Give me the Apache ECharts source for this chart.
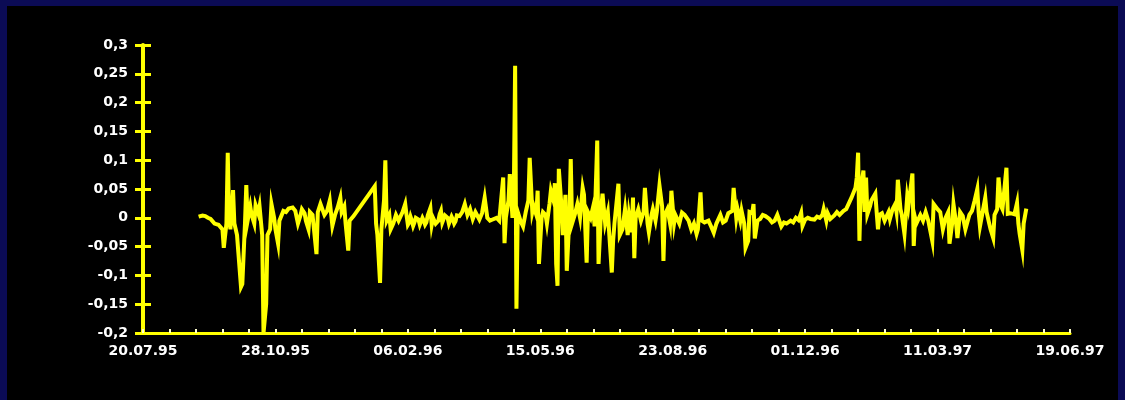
<!DOCTYPE html>
<html>
<head>
<meta charset="utf-8">
<script src="https://cdn.jsdelivr.net/npm/echarts@6/dist/echarts.min.js"></script>
<style>
  html, body { margin: 0; padding: 0; width: 1125px; height: 400px; overflow: hidden; background: #0b0b55; }
  #frame { position: absolute; left: 7px; top: 6px; width: 1111px; height: 394px; background: #000; }
  #chart { position: absolute; left: 0; top: 0; width: 1125px; height: 400px; }
</style>
</head>
<body>
<div id="frame"></div>
<div id="chart"></div>
<script>
// x tick labels (one every 100 days, starting 20.07.95)
const xTickLabels = ['20.07.95', '28.10.95', '06.02.96', '15.05.96', '23.08.96', '01.12.96', '11.03.97', '19.06.97'];

// days since 20.07.95
const days = [
  42, 45, 47, 49, 51, 52, 54, 57, 58, 60, 61, 63, 64, 65, 66, 68, 69, 71, 72, 74,
  75, 77, 78, 79, 81, 82, 84, 85, 87, 88, 90, 91, 93, 94, 96, 97, 99, 100, 102, 103,
  106, 108, 110, 113, 115, 117, 119, 120, 122, 123, 125, 126, 128, 131, 132, 134, 137,
  139, 141, 143, 145, 147, 149, 150, 152, 153, 155, 156, 159,
  175, 176, 177, 179, 180, 182, 183, 184, 186, 187, 189, 191, 193,
  196, 198, 199, 200, 201, 202, 203, 204, 205, 206, 208, 209, 210, 211, 212, 213, 214,
  215, 217, 218, 219, 220, 221, 223, 224, 225, 226, 227, 228, 230, 231, 232, 233, 234,
  235, 236, 237, 239,
  241, 243, 245, 247, 249, 251, 254, 256, 258, 260, 262, 264, 267, 269, 270, 272, 273,
  274, 276, 277, 279, 280, 281, 282, 283, 285, 287, 289, 291, 292, 294, 295, 297, 298,
  299, 301, 302, 304, 305, 307, 308, 310, 311, 312, 313, 314, 316, 317, 319, 320, 322,
  323, 324, 326, 328, 330, 332, 333, 335, 336, 338, 340, 341, 343, 344,
  346, 347, 349, 351, 353, 354, 355, 356, 359, 360, 362, 364, 366, 367, 369, 370, 371,
  372, 374, 376, 378, 379, 381, 382, 384, 385, 387, 388, 390, 392, 393, 394, 396, 398,
  399, 401, 402, 405, 407, 409, 412, 414, 416, 418, 419, 421, 422, 424, 427, 429, 431,
  433, 436, 438, 440, 442, 445, 446,
  448, 449, 451, 452, 454, 455, 457, 458, 460, 461, 462, 464, 466, 468, 470, 473, 475,
  477, 479, 482, 484, 486, 489, 491, 493, 495, 497, 498, 500, 502, 504, 507, 509, 511,
  513, 514, 516, 517, 519, 522, 524, 526, 529, 531, 533, 535, 538, 539, 540, 541, 542,
  544, 545,
  546, 547, 549, 550, 553, 554, 555, 556, 558, 560, 563, 564, 566, 568, 569, 570, 572,
  573, 575, 577, 578, 581, 582, 583, 584, 587, 589, 591, 593, 596, 597, 600, 602, 604,
  606, 608, 609, 611, 612, 614, 615, 617, 619, 621, 624, 626, 628, 630, 631, 632, 634,
  636, 637, 639, 640, 642, 643, 645, 646, 648, 649, 652, 653, 655, 658, 660, 661, 662,
  664, 665, 667
];

// daily returns
const returns = [
  0.002, 0.004, 0.003, 0.000, -0.002, -0.005, -0.010, -0.012, -0.015, -0.020, -0.052, -0.010, 0.113, 0.000, -0.020, 0.048, -0.010, -0.030, -0.060, -0.120,
  -0.115, -0.010, 0.057, -0.005, 0.020, 0.005, -0.010, 0.022, 0.008, 0.020, -0.030, -0.200, -0.150, -0.030, -0.020, 0.024, 0.000, -0.020, -0.045, -0.005,
  0.012, 0.010, 0.016, 0.018, 0.012, -0.010, 0.005, 0.015, 0.008, -0.005, -0.020, 0.010, 0.005, -0.063, 0.010, 0.024, 0.005,
  0.012, 0.030, -0.014, 0.005, 0.018, 0.035, 0.010, 0.020, -0.010, -0.057, -0.005, 0.003,
  0.055, -0.010, -0.030, -0.113, -0.020, 0.030, 0.100, -0.005, 0.005, -0.020, -0.010, 0.005, -0.005,
  0.010, 0.024, 0.005, -0.012, -0.008, 0.002, -0.005, -0.014, -0.008, 0.000, -0.003, -0.012, -0.010, 0.000, -0.005, -0.012, -0.008,
  0.004, 0.017, -0.012, 0.000, -0.003, -0.010, -0.005, 0.006, 0.012, -0.008, -0.005, 0.004, 0.000, -0.010, -0.008, 0.002, -0.003,
  -0.010, -0.006, 0.004, 0.003,
  0.010, 0.024, 0.005, 0.015, -0.002, 0.010, -0.003, 0.008, 0.035, 0.000, -0.005, -0.003, 0.000, -0.005, 0.020, 0.070, -0.044,
  0.000, 0.030, 0.076, 0.000, 0.040, 0.264, -0.158, 0.010, -0.005, -0.015, 0.010, 0.030, 0.104, 0.010, 0.020, 0.005, 0.047,
  -0.080, 0.000, 0.010, 0.005, -0.010, 0.025, 0.047, 0.030, 0.060, -0.080, -0.118, 0.085, 0.020, -0.030, 0.040, -0.092, 0.000,
  0.102, -0.010, 0.005, 0.024, 0.000, 0.052, 0.040, -0.078, 0.010, 0.000, 0.020, -0.015, 0.134, -0.080,
  0.015, 0.042, -0.010, 0.010, -0.060, -0.095, -0.040, -0.010, 0.059, -0.030, -0.020, 0.015, -0.030, 0.005, -0.025, 0.035, -0.070,
  0.000, 0.015, -0.005, 0.010, 0.052, -0.010, -0.025, 0.005, 0.015, -0.005, 0.010, 0.056, 0.020, -0.075, 0.005, 0.015, -0.010,
  0.047, -0.010, 0.005, -0.010, 0.009, 0.005, -0.005, -0.020, -0.010, -0.028, -0.020, 0.044, -0.005, -0.008, -0.005, -0.015, -0.026,
  -0.010, 0.005, -0.008, -0.005, 0.008, 0.012, 0.052,
  0.000, 0.015, -0.005, 0.012, -0.010, -0.052, -0.040, 0.010, 0.008, 0.024, -0.036, -0.005, -0.002, 0.005, 0.003, -0.002, -0.008,
  -0.005, 0.005, -0.015, -0.008, -0.010, -0.005, -0.008, 0.000, -0.004, 0.009, -0.014, -0.003, 0.000, -0.002, -0.003, 0.002, 0.000,
  0.005, 0.015, -0.005, 0.008, -0.002, 0.004, 0.010, 0.005, 0.012, 0.015, 0.025, 0.035, 0.052, 0.070, 0.113, -0.040, 0.050,
  0.082, 0.010,
  0.070, 0.006, 0.020, 0.030, 0.042, 0.010, -0.020, 0.005, 0.008, -0.005, 0.010, -0.002, 0.015, 0.024, 0.010, 0.066, 0.015,
  0.005, -0.028, 0.035, 0.020, 0.077, -0.049, 0.000, -0.010, 0.005, -0.005, 0.010, -0.005, -0.040, 0.024, 0.015, 0.010, -0.020,
  0.000, 0.010, -0.045, -0.010, 0.024, -0.010, -0.035, 0.010, 0.003, -0.020, 0.005, 0.012, 0.030, 0.050, 0.010, -0.015, 0.010,
  0.035, 0.010, -0.010, -0.020, -0.035, 0.005, 0.015, 0.070, 0.020, 0.015, 0.087, 0.007, 0.008, 0.006, 0.026, -0.010, -0.028,
  -0.056, -0.010, 0.016
];

const seriesData = days.map((d, i) => [d, returns[i]]);

const labelFont = { color: '#ffffff', fontFamily: 'DejaVu Sans', fontWeight: 'bold', fontSize: 14 };

const chart = echarts.init(document.getElementById('chart'), null, { renderer: 'canvas' });
chart.setOption({
  backgroundColor: 'transparent',
  animation: false,
  grid: { left: 143, top: 45, right: 55, bottom: 67, containLabel: false },
  xAxis: {
    type: 'value',
    min: 0,
    max: 700,
    interval: 100,
    axisLine: { show: true, onZero: false, lineStyle: { color: '#ffff00', width: 3 } },
    axisTick: { show: true, inside: true, length: 4, lineStyle: { color: '#ffffcc', width: 2 } },
    minorTick: { show: true, splitNumber: 5, length: 4, lineStyle: { color: '#ffffcc', width: 2 } },
    splitLine: { show: false },
    axisLabel: Object.assign({
      margin: 11,
      formatter: v => xTickLabels[Math.round(v / 100)] || ''
    }, labelFont)
  },
  yAxis: [
    {
      type: 'value',
      min: -0.2,
      max: 0.3,
      interval: 0.05,
      axisLine: { show: true, onZero: false, lineStyle: { color: '#ffff00', width: 4 } },
      axisTick: { show: true, inside: false, length: 8, lineStyle: { color: '#ffff00', width: 3 } },
      splitLine: { show: false },
      axisLabel: Object.assign({
        margin: 15,
        formatter: v => {
          const r = Math.round(v * 100) / 100;
          return String(r).replace('.', ',');
        }
      }, labelFont)
    },
    {
      type: 'value',
      min: -0.2,
      max: 0.3,
      interval: 0.05,
      position: 'left',
      axisLine: { show: false },
      axisTick: { show: true, inside: true, length: 8, lineStyle: { color: '#ffff00', width: 3 } },
      splitLine: { show: false },
      axisLabel: { show: false }
    }
  ],
  series: [{
    type: 'line',
    data: seriesData,
    yAxisIndex: 0,
    showSymbol: false,
    lineStyle: { color: '#ffff00', width: 4, join: 'miter' },
    z: 3
  }]
});
</script>
</body>
</html>
